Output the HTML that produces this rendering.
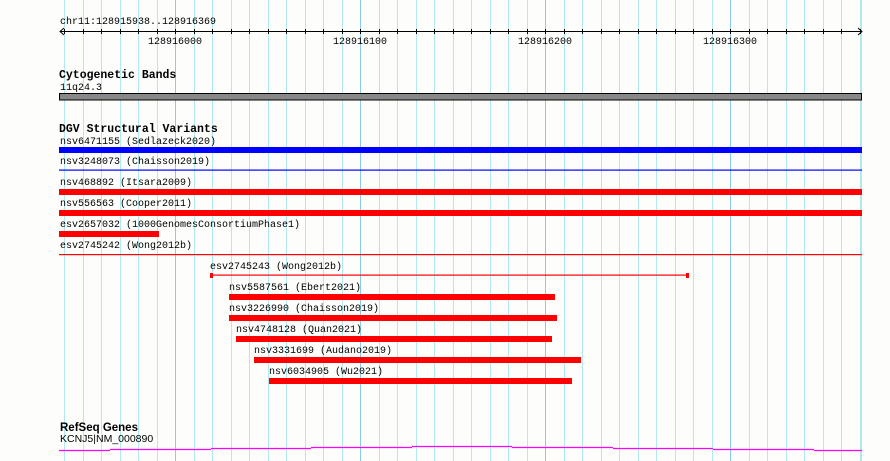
<!DOCTYPE html>
<html><head><meta charset="utf-8"><style>
html,body{margin:0;padding:0;background:#fdfefc;}
svg{display:block;}
text{font-family:"Liberation Mono","DejaVu Sans Mono",monospace;font-size:10px;fill:#000;}
.b{font-weight:bold;font-size:11.5px;}
</style></head><body>
<svg id="s" width="890" height="461" viewBox="0 0 890 461" xmlns="http://www.w3.org/2000/svg">
<g id="grid"></g>
<!-- ruler -->
<text x="60" y="24">chr11:128915938..128916369</text>
<line x1="60" y1="31.5" x2="862" y2="31.5" stroke="#000" stroke-width="1"/>
<polyline points="64,28 60,31.5 64,35" fill="none" stroke="#000"/>
<polyline points="858,28 862,31.5 858,35" fill="none" stroke="#000"/>
<g id="ticks"></g>
<text x="175" y="44" text-anchor="middle">128916000</text>
<text x="360" y="44" text-anchor="middle">128916100</text>
<text x="545" y="44" text-anchor="middle">128916200</text>
<text x="730" y="44" text-anchor="middle">128916300</text>
<!-- cytogenetic -->
<text class="b" x="59" y="78">Cytogenetic Bands</text>
<text x="60" y="90">11q24.3</text>
<rect x="59.5" y="93.5" width="802" height="6.5" fill="#888" stroke="#000" stroke-width="1"/>
<!-- DGV -->
<text class="b" x="59" y="132">DGV Structural Variants</text>
<text x="60" y="144">nsv6471155 (Sedlazeck2020)</text>
<rect x="59" y="147" width="803" height="6" fill="#0000ff"/>
<text x="60" y="164">nsv3248073 (Chaisson2019)</text>
<rect x="59" y="169.5" width="803" height="1.2" fill="#0000ff"/>
<text x="60" y="185">nsv468892 (Itsara2009)</text>
<rect x="59" y="189" width="803" height="6" fill="#ff0000"/>
<text x="60" y="206">nsv556563 (Cooper2011)</text>
<rect x="59" y="210" width="803" height="6" fill="#ff0000"/>
<text x="60" y="227">esv2657032 (1000GenomesConsortiumPhase1)</text>
<rect x="59" y="231" width="100" height="6" fill="#ff0000"/>
<text x="60" y="248">esv2745242 (Wong2012b)</text>
<rect x="59" y="254" width="803" height="1.2" fill="#ff0000"/>
<text x="210" y="269">esv2745243 (Wong2012b)</text>
<rect x="210" y="274.5" width="479" height="1.2" fill="#ff0000"/>
<rect x="210" y="273" width="3" height="5" fill="#ff0000"/>
<rect x="686" y="273" width="3" height="5" fill="#ff0000"/>
<text x="229" y="290">nsv5587561 (Ebert2021)</text>
<rect x="229" y="294" width="326" height="6" fill="#ff0000"/>
<text x="229" y="311">nsv3226990 (Chaisson2019)</text>
<rect x="229" y="315" width="328" height="6" fill="#ff0000"/>
<text x="236" y="332">nsv4748128 (Quan2021)</text>
<rect x="236" y="336" width="316" height="6" fill="#ff0000"/>
<text x="254" y="353">nsv3331699 (Audano2019)</text>
<rect x="254" y="357" width="327" height="6" fill="#ff0000"/>
<text x="269" y="374">nsv6034905 (Wu2021)</text>
<rect x="269" y="378" width="303" height="6" fill="#ff0000"/>
<!-- refseq -->
<text x="60" y="431" style="font-family:'Liberation Sans',sans-serif;font-weight:bold;font-size:11.5px">RefSeq Genes</text>
<text x="60" y="442" style="font-family:'Liberation Sans',sans-serif;font-size:10.5px">KCNJ5|NM_000890</text>
<g stroke="#ff00ff" stroke-width="1.3" fill="none">
<line x1="59" y1="450.5" x2="110" y2="450.5"/>
<line x1="110" y1="449.5" x2="211" y2="449.5"/>
<line x1="211" y1="448.5" x2="311" y2="448.5"/>
<line x1="311" y1="447.5" x2="412" y2="447.5"/>
<line x1="412" y1="446.5" x2="512" y2="446.5"/>
<line x1="512" y1="447.5" x2="613" y2="447.5"/>
<line x1="613" y1="448.5" x2="713" y2="448.5"/>
<line x1="713" y1="449.5" x2="814" y2="449.5"/>
<line x1="814" y1="450.5" x2="862" y2="450.5"/>
</g>
</svg>
<script>
var ns="http://www.w3.org/2000/svg",g=document.getElementById("grid"),t=document.getElementById("ticks");
for(var k=-6;k<=37;k++){var x=175+18.5*k;if(x<59||x>862)continue;var xx=Math.round(x)+0.5;
var major=(k%10===0);
var l=document.createElementNS(ns,"line");l.setAttribute("x1",xx);l.setAttribute("x2",xx);l.setAttribute("y1",0);l.setAttribute("y2",461);
l.setAttribute("stroke",major?"#8ccbe8":"#b2e8ee");l.setAttribute("stroke-width",1);g.appendChild(l);
var m=document.createElementNS(ns,"line");m.setAttribute("x1",xx);m.setAttribute("x2",xx);m.setAttribute("y1",29);m.setAttribute("y2",34);m.setAttribute("stroke","#000");t.appendChild(m);}
var r=document.createElementNS(ns,"line");r.setAttribute("x1",861.5);r.setAttribute("x2",861.5);r.setAttribute("y1",0);r.setAttribute("y2",461);r.setAttribute("stroke","#b2e8ee");g.appendChild(r);
</script>
</body></html>
